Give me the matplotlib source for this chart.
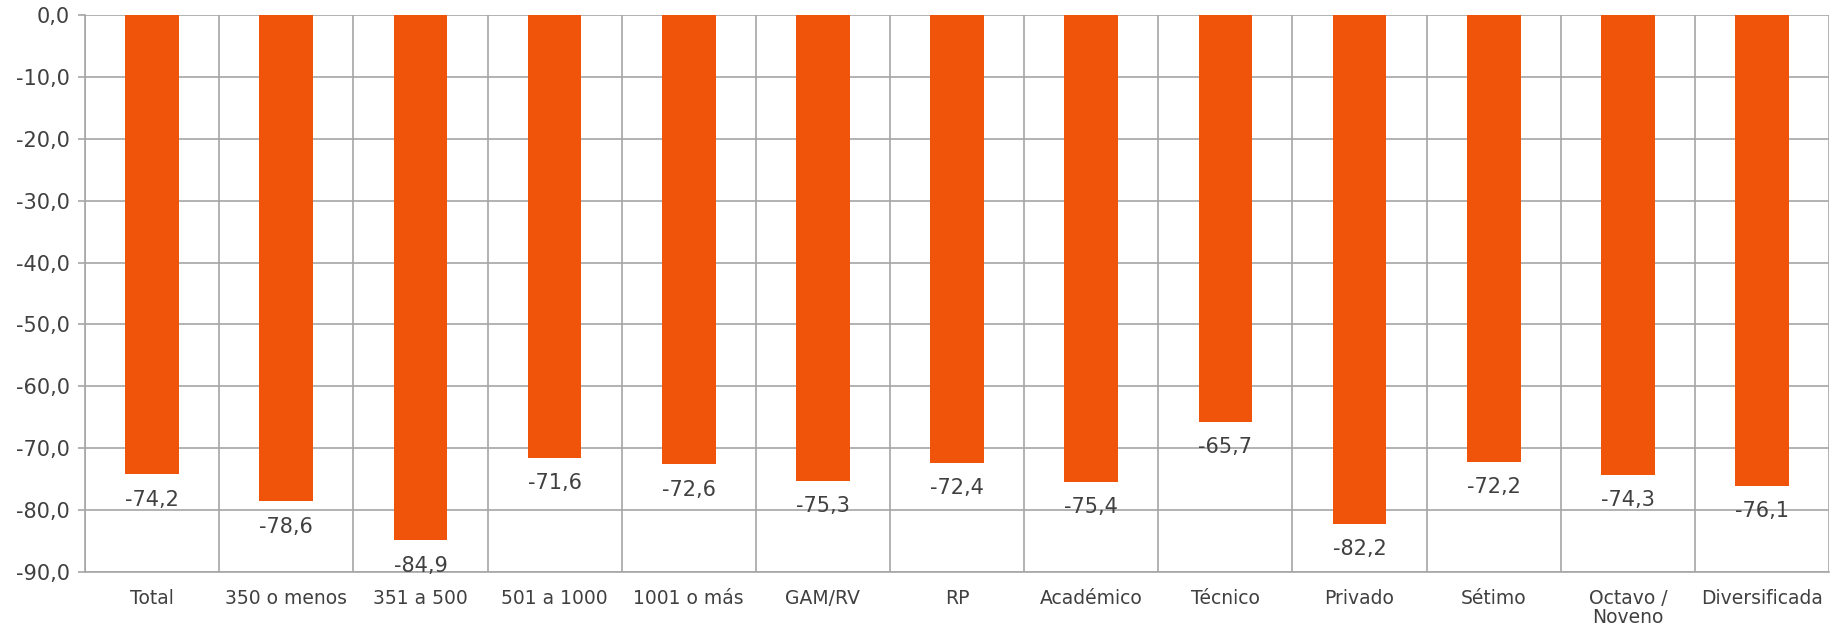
import matplotlib.pyplot as plt
import numpy as np

# 数据
categorias = ['Total', '350 o menos', '351 a 500', '501 a 1000', '1001 o más',
              'GAM/RV', 'RP', 'Académico', 'Técnico', 'Privado', 'Sétimo',
              'Octavo /\nNoveno', 'Diversificada']
valores = [-74.2, -78.6, -84.9, -71.6, -72.6, -75.3, -72.4, -75.4, -65.7,
           -82.2, -72.2, -74.3, -76.1]
y_ticks = [0, -10, -20, -30, -40, -50, -60, -70, -80, -90]

color_barra = '#F0530A'
color_grid = '#A6A6A6'
color_texto = '#404040'

plt.rcParams['font.family'] = ['DejaVu Sans']

fig = plt.figure(figsize=(18.3, 6.29), dpi=100)
ax = fig.add_axes([0.0465, 0.0906, 0.9530, 0.8855])

x = np.arange(len(categorias))
barras = ax.bar(x, valores, width=0.4, color=color_barra, zorder=3)

# etiquetas de valor debajo de cada barra
for xi, v in zip(x, valores):
    ax.annotate(f'{v:.1f}'.replace('.', ','), xy=(xi, v), xytext=(0, -11),
                textcoords='offset points', ha='center', va='top',
                fontsize=15, color=color_texto, zorder=4)

ax.set_xlim(-0.5, len(categorias) - 0.5)
ax.set_ylim(-90, 0)
ax.set_yticks(y_ticks)
ax.set_yticklabels([f'{t:.1f}'.replace('.', ',') for t in y_ticks])
ax.set_xticks(x)
ax.set_xticklabels(categorias, fontsize=13.5, color=color_texto, linespacing=1.0)
ax.set_xticks(np.arange(-0.5, len(categorias)), minor=True)

ax.grid(axis='y', which='major', color=color_grid, linewidth=1.2, zorder=0)
ax.grid(axis='x', which='minor', color=color_grid, linewidth=1.2, zorder=0)

ax.tick_params(axis='y', labelsize=15, labelcolor=color_texto, color=color_grid,
               length=5, width=1.2, pad=6)
ax.tick_params(axis='x', which='both', length=0, pad=12)

for lado in ['top', 'right']:
    ax.spines[lado].set_visible(False)
for lado in ['left', 'bottom']:
    ax.spines[lado].set_color(color_grid)
    ax.spines[lado].set_linewidth(1.2)

plt.savefig('out.png', dpi=100)
